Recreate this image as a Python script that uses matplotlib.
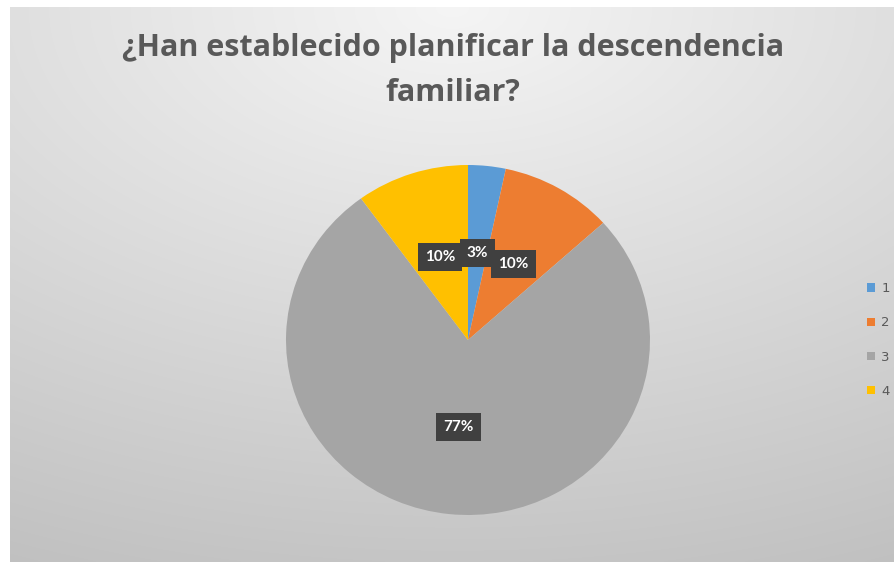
import numpy as np
import matplotlib
matplotlib.use("Agg")
import matplotlib.pyplot as plt

categories = ["1", "2", "3", "4"]
counts = [1, 3, 23, 3]
colors = ["#5B9BD5", "#ED7D31", "#A5A5A5", "#FFC000"]
title = "¿Han establecido planificar la descendencia\nfamiliar?"

W, H = 895, 562
fig = plt.figure(figsize=(W / 100, H / 100), dpi=100)
fig.patch.set_facecolor("white")

# background gradient (chart area)
bg = fig.add_axes([10 / W, 0, (W - 10) / W, (H - 7) / H])
yy, xx = np.mgrid[0:1:300j, 0:1:500j]
d = np.sqrt(((xx - 0.5) * 1.0) ** 2 + ((yy - 0.0) * 1.1) ** 2)
val = 0.96 - 0.17 * np.clip(d, 0, 1.2) / 1.0
img = np.dstack([val, val, val])
bg.imshow(img, aspect="auto", extent=[0, 1, 0, 1], origin="upper", interpolation="bilinear")
bg.set_axis_off()

cx, cy, rx, ry = 468, 340, 182, 175
ax = fig.add_axes([(cx - rx) / W, 1 - (cy + ry) / H, 2 * rx / W, 2 * ry / H])
wedges, texts, autotexts = ax.pie(
    counts, colors=colors, startangle=90, counterclock=False,
    autopct=lambda p: f"{p:.0f}%", pctdistance=0.5,
    wedgeprops=dict(linewidth=0),
    textprops=dict(color="white", fontsize=11, fontweight="bold", family="Lato"),
)
for t in autotexts:
    t.set_bbox(dict(boxstyle="square,pad=0.45", facecolor="#404040", edgecolor="none"))
ax.set_xlim(-1, 1)
ax.set_ylim(-1, 1)
ax.set_aspect("auto")

fig.text(0.506, 0.875, title, ha="center", va="center", fontsize=22, fontweight="bold",
         color="#595959", family="Open Sans", linespacing=1.65)

leg = fig.legend(wedges, categories, loc="center left", bbox_to_anchor=(855 / W, 1 - 340 / H),
                 frameon=False, handlelength=0.6, handleheight=0.6, handletextpad=0.5,
                 labelspacing=1.6, prop=dict(size=9.5, family="DejaVu Sans"),
                 labelcolor="#595959")

fig.savefig("out.png", dpi=100)
